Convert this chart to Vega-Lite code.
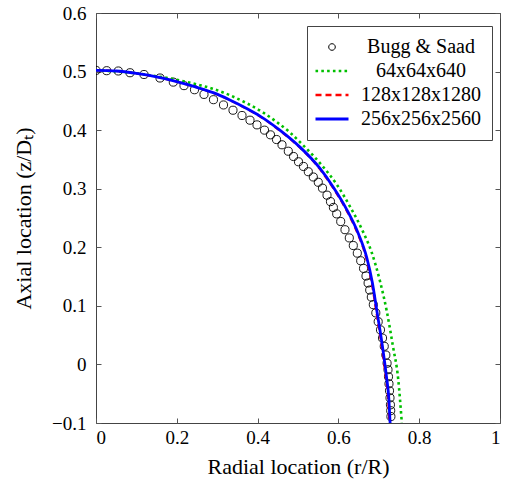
{
  "$schema": "https://vega.github.io/schema/vega-lite/v6.json",
  "width": 404,
  "height": 410,
  "autosize": {"type": "none"},
  "padding": {"left": 96, "top": 13, "right": 5, "bottom": 59},
  "background": "white",
  "config": {
    "font": "Liberation Serif",
    "view": {"stroke": "#444", "strokeWidth": 1},
    "axis": {"grid": false, "domain": false, "tickColor": "#555", "tickWidth": 1, "tickSize": -5, "labelFont": "Liberation Serif", "labelFontSize": 19, "labelColor": "black", "titleFont": "Liberation Serif", "titleFontSize": 22, "titleFontWeight": "normal", "titleColor": "black"}
  },
  "data": {"values": [
    {"series": "Bugg & Saad", "r": 0.0, "z": 0.502},
    {"series": "Bugg & Saad", "r": 0.0265, "z": 0.5015},
    {"series": "Bugg & Saad", "r": 0.0552, "z": 0.501},
    {"series": "Bugg & Saad", "r": 0.0842, "z": 0.498},
    {"series": "Bugg & Saad", "r": 0.1188, "z": 0.495},
    {"series": "Bugg & Saad", "r": 0.1584, "z": 0.489},
    {"series": "Bugg & Saad", "r": 0.1913, "z": 0.482},
    {"series": "Bugg & Saad", "r": 0.2178, "z": 0.476},
    {"series": "Bugg & Saad", "r": 0.2438, "z": 0.469},
    {"series": "Bugg & Saad", "r": 0.2673, "z": 0.461},
    {"series": "Bugg & Saad", "r": 0.2908, "z": 0.452},
    {"series": "Bugg & Saad", "r": 0.3156, "z": 0.443},
    {"series": "Bugg & Saad", "r": 0.3391, "z": 0.434},
    {"series": "Bugg & Saad", "r": 0.3614, "z": 0.425},
    {"series": "Bugg & Saad", "r": 0.3812, "z": 0.417},
    {"series": "Bugg & Saad", "r": 0.3985, "z": 0.409},
    {"series": "Bugg & Saad", "r": 0.4171, "z": 0.4},
    {"series": "Bugg & Saad", "r": 0.4319, "z": 0.392},
    {"series": "Bugg & Saad", "r": 0.4468, "z": 0.384},
    {"series": "Bugg & Saad", "r": 0.4604, "z": 0.375},
    {"series": "Bugg & Saad", "r": 0.476, "z": 0.364},
    {"series": "Bugg & Saad", "r": 0.4889, "z": 0.355},
    {"series": "Bugg & Saad", "r": 0.5012, "z": 0.346},
    {"series": "Bugg & Saad", "r": 0.5136, "z": 0.338},
    {"series": "Bugg & Saad", "r": 0.5255, "z": 0.329},
    {"series": "Bugg & Saad", "r": 0.5379, "z": 0.32},
    {"series": "Bugg & Saad", "r": 0.5502, "z": 0.311},
    {"series": "Bugg & Saad", "r": 0.5606, "z": 0.301},
    {"series": "Bugg & Saad", "r": 0.5718, "z": 0.289},
    {"series": "Bugg & Saad", "r": 0.5804, "z": 0.278},
    {"series": "Bugg & Saad", "r": 0.5876, "z": 0.268},
    {"series": "Bugg & Saad", "r": 0.5958, "z": 0.257},
    {"series": "Bugg & Saad", "r": 0.6057, "z": 0.244},
    {"series": "Bugg & Saad", "r": 0.6163, "z": 0.23},
    {"series": "Bugg & Saad", "r": 0.627, "z": 0.216},
    {"series": "Bugg & Saad", "r": 0.6369, "z": 0.203},
    {"series": "Bugg & Saad", "r": 0.6468, "z": 0.19},
    {"series": "Bugg & Saad", "r": 0.6552, "z": 0.177},
    {"series": "Bugg & Saad", "r": 0.6622, "z": 0.164},
    {"series": "Bugg & Saad", "r": 0.6683, "z": 0.151},
    {"series": "Bugg & Saad", "r": 0.6735, "z": 0.139},
    {"series": "Bugg & Saad", "r": 0.6775, "z": 0.127},
    {"series": "Bugg & Saad", "r": 0.6815, "z": 0.115},
    {"series": "Bugg & Saad", "r": 0.6864, "z": 0.102},
    {"series": "Bugg & Saad", "r": 0.6926, "z": 0.088},
    {"series": "Bugg & Saad", "r": 0.6985, "z": 0.073},
    {"series": "Bugg & Saad", "r": 0.7042, "z": 0.059},
    {"series": "Bugg & Saad", "r": 0.7092, "z": 0.045},
    {"series": "Bugg & Saad", "r": 0.7135, "z": 0.031},
    {"series": "Bugg & Saad", "r": 0.7175, "z": 0.016},
    {"series": "Bugg & Saad", "r": 0.7205, "z": 0.002},
    {"series": "Bugg & Saad", "r": 0.7228, "z": -0.009},
    {"series": "Bugg & Saad", "r": 0.724, "z": -0.021},
    {"series": "Bugg & Saad", "r": 0.7252, "z": -0.033},
    {"series": "Bugg & Saad", "r": 0.7265, "z": -0.045},
    {"series": "Bugg & Saad", "r": 0.7277, "z": -0.057},
    {"series": "Bugg & Saad", "r": 0.7288, "z": -0.069},
    {"series": "Bugg & Saad", "r": 0.7295, "z": -0.079},
    {"series": "Bugg & Saad", "r": 0.73, "z": -0.089},
    {"series": "64x64x640", "r": 0.0, "z": 0.502},
    {"series": "64x64x640", "r": 0.1, "z": 0.497},
    {"series": "64x64x640", "r": 0.15, "z": 0.492},
    {"series": "64x64x640", "r": 0.2, "z": 0.486},
    {"series": "64x64x640", "r": 0.25, "z": 0.478},
    {"series": "64x64x640", "r": 0.29, "z": 0.4705},
    {"series": "64x64x640", "r": 0.33, "z": 0.46},
    {"series": "64x64x640", "r": 0.373, "z": 0.446},
    {"series": "64x64x640", "r": 0.414, "z": 0.43},
    {"series": "64x64x640", "r": 0.447, "z": 0.414},
    {"series": "64x64x640", "r": 0.48, "z": 0.396},
    {"series": "64x64x640", "r": 0.513, "z": 0.374},
    {"series": "64x64x640", "r": 0.559, "z": 0.34},
    {"series": "64x64x640", "r": 0.598, "z": 0.305},
    {"series": "64x64x640", "r": 0.63, "z": 0.268},
    {"series": "64x64x640", "r": 0.66, "z": 0.228},
    {"series": "64x64x640", "r": 0.682, "z": 0.192},
    {"series": "64x64x640", "r": 0.703, "z": 0.142},
    {"series": "64x64x640", "r": 0.72, "z": 0.09},
    {"series": "64x64x640", "r": 0.735, "z": 0.031},
    {"series": "64x64x640", "r": 0.748, "z": -0.025},
    {"series": "64x64x640", "r": 0.757, "z": -0.1},
    {"series": "128x128x1280", "r": 0.0, "z": 0.502},
    {"series": "128x128x1280", "r": 0.048, "z": 0.501},
    {"series": "128x128x1280", "r": 0.098, "z": 0.497},
    {"series": "128x128x1280", "r": 0.148, "z": 0.491},
    {"series": "128x128x1280", "r": 0.198, "z": 0.483},
    {"series": "128x128x1280", "r": 0.248, "z": 0.473},
    {"series": "128x128x1280", "r": 0.288, "z": 0.464},
    {"series": "128x128x1280", "r": 0.328, "z": 0.452},
    {"series": "128x128x1280", "r": 0.371, "z": 0.437},
    {"series": "128x128x1280", "r": 0.404, "z": 0.424},
    {"series": "128x128x1280", "r": 0.453, "z": 0.4},
    {"series": "128x128x1280", "r": 0.503, "z": 0.371},
    {"series": "128x128x1280", "r": 0.552, "z": 0.335},
    {"series": "128x128x1280", "r": 0.585, "z": 0.303},
    {"series": "128x128x1280", "r": 0.619, "z": 0.264},
    {"series": "128x128x1280", "r": 0.647, "z": 0.224},
    {"series": "128x128x1280", "r": 0.668, "z": 0.183},
    {"series": "128x128x1280", "r": 0.682, "z": 0.14},
    {"series": "128x128x1280", "r": 0.694, "z": 0.088},
    {"series": "128x128x1280", "r": 0.707, "z": 0.031},
    {"series": "128x128x1280", "r": 0.717, "z": -0.021},
    {"series": "128x128x1280", "r": 0.723, "z": -0.06},
    {"series": "128x128x1280", "r": 0.726, "z": -0.1},
    {"series": "256x256x2560", "r": 0.0, "z": 0.502},
    {"series": "256x256x2560", "r": 0.05, "z": 0.501},
    {"series": "256x256x2560", "r": 0.1, "z": 0.497},
    {"series": "256x256x2560", "r": 0.15, "z": 0.491},
    {"series": "256x256x2560", "r": 0.2, "z": 0.483},
    {"series": "256x256x2560", "r": 0.25, "z": 0.473},
    {"series": "256x256x2560", "r": 0.29, "z": 0.464},
    {"series": "256x256x2560", "r": 0.33, "z": 0.452},
    {"series": "256x256x2560", "r": 0.373, "z": 0.437},
    {"series": "256x256x2560", "r": 0.406, "z": 0.424},
    {"series": "256x256x2560", "r": 0.455, "z": 0.4},
    {"series": "256x256x2560", "r": 0.505, "z": 0.371},
    {"series": "256x256x2560", "r": 0.554, "z": 0.335},
    {"series": "256x256x2560", "r": 0.587, "z": 0.303},
    {"series": "256x256x2560", "r": 0.621, "z": 0.264},
    {"series": "256x256x2560", "r": 0.649, "z": 0.224},
    {"series": "256x256x2560", "r": 0.67, "z": 0.183},
    {"series": "256x256x2560", "r": 0.684, "z": 0.14},
    {"series": "256x256x2560", "r": 0.696, "z": 0.088},
    {"series": "256x256x2560", "r": 0.709, "z": 0.031},
    {"series": "256x256x2560", "r": 0.719, "z": -0.021},
    {"series": "256x256x2560", "r": 0.725, "z": -0.06},
    {"series": "256x256x2560", "r": 0.728, "z": -0.1}
  ]},
  "resolve": {"axis": {"x": "independent", "y": "independent"}},
  "layer": [
    {
      "transform": [{"filter": "datum.series === 'Bugg & Saad'"}],
      "mark": {"type": "point", "shape": "circle", "filled": false, "size": 66, "strokeWidth": 0.9, "opacity": 1, "clip": true},
      "encoding": {
        "x": {"field": "r", "type": "quantitative", "scale": {"domain": [0, 1], "nice": false, "zero": false}, "axis": {"orient": "bottom", "values": [0, 0.2, 0.4, 0.6, 0.8, 1], "format": "~g", "labelPadding": 10, "title": "Radial location (r/R)", "titlePadding": 9}},
        "y": {"field": "z", "type": "quantitative", "scale": {"domain": [-0.1, 0.6], "nice": false, "zero": false}, "axis": {"orient": "left", "values": [-0.1, 0, 0.1, 0.2, 0.3, 0.4, 0.5, 0.6], "format": "~g", "labelPadding": 15, "title": "Axial location (z/Dₜ)", "titlePadding": 16}},
        "color": {
          "field": "series", "type": "nominal",
          "scale": {"domain": ["Bugg & Saad", "64x64x640", "128x128x1280", "256x256x2560"], "range": ["black", "#00c000", "#ff0000", "#0000ff"]},
          "legend": {
            "title": null, "orient": "none", "legendX": 211, "legendY": 13,
            "padding": 11, "strokeColor": "#444", "fillColor": "white",
            "symbolSize": 400, "symbolOffset": 4, "rowPadding": 4,
            "symbolType": {"expr": "datum.value === 'Bugg & Saad' ? 'M-0.33,0A0.33,0.33,0,1,0,0.33,0A0.33,0.33,0,1,0,-0.33,0Z' : 'M-1.65,0H1.65'"},
            "symbolStrokeWidth": {"expr": "datum.value === 'Bugg & Saad' ? 1 : (datum.value === '256x256x2560' ? 2.8 : 2.4)"},
            "symbolDash": {"expr": "datum.value === '64x64x640' ? [2.6, 3.2] : (datum.value === '128x128x1280' ? [6, 4] : [])"},
            "labelFont": "Liberation Serif", "labelFontSize": 20, "labelColor": "black",
            "labelAlign": "center", "labelOffset": 79
          }
        }
      }
    },
    {
      "transform": [{"filter": "datum.series === '64x64x640'"}],
      "mark": {"type": "line", "strokeWidth": 2.6, "strokeDash": [2.6, 3.2], "interpolate": "monotone", "clip": true},
      "encoding": {
        "x": {"field": "r", "type": "quantitative", "axis": {"orient": "top", "values": [0, 0.2, 0.4, 0.6, 0.8, 1], "labels": false, "title": null}},
        "y": {"field": "z", "type": "quantitative", "axis": {"orient": "right", "values": [-0.1, 0, 0.1, 0.2, 0.3, 0.4, 0.5, 0.6], "labels": false, "title": null}},
        "color": {"field": "series", "type": "nominal", "legend": null},
        "order": {"value": null}
      }
    },
    {
      "transform": [{"filter": "datum.series === '128x128x1280'"}],
      "mark": {"type": "line", "strokeWidth": 2, "strokeDash": [6, 4], "interpolate": "monotone", "clip": true},
      "encoding": {
        "x": {"field": "r", "type": "quantitative", "axis": null},
        "y": {"field": "z", "type": "quantitative", "axis": null},
        "color": {"field": "series", "type": "nominal", "legend": null},
        "order": {"value": null}
      }
    },
    {
      "transform": [{"filter": "datum.series === '256x256x2560'"}],
      "mark": {"type": "line", "strokeWidth": 2.8, "interpolate": "monotone", "clip": true},
      "encoding": {
        "x": {"field": "r", "type": "quantitative", "axis": null},
        "y": {"field": "z", "type": "quantitative", "axis": null},
        "color": {"field": "series", "type": "nominal", "legend": null},
        "order": {"value": null}
      }
    }
  ]
}
